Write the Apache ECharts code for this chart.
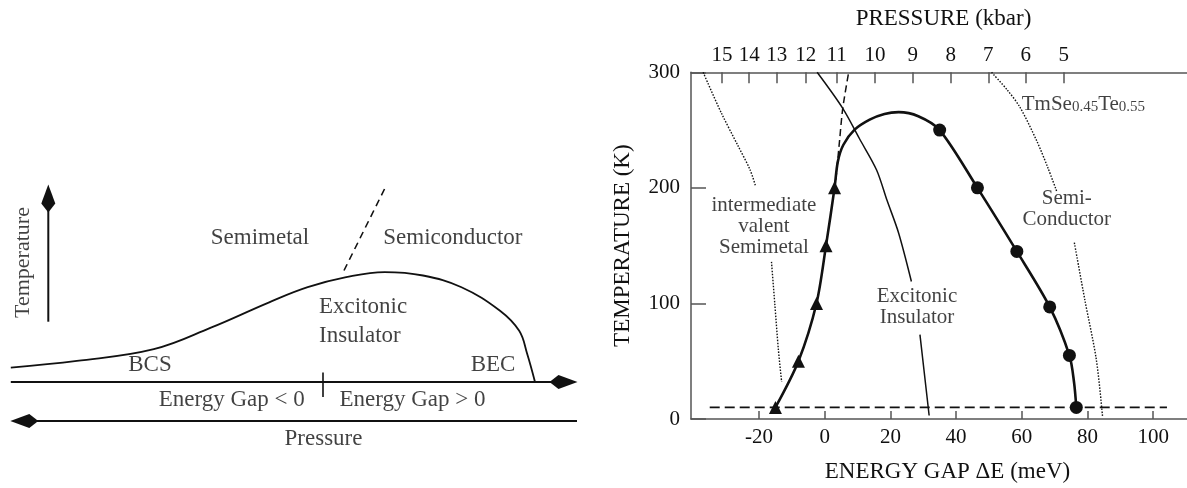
<!DOCTYPE html>
<html><head><meta charset="utf-8">
<script src="https://cdn.jsdelivr.net/npm/echarts@6/dist/echarts.min.js"></script>
<style>html,body{margin:0;padding:0;background:#fff}#c{width:1187px;height:488px}</style>
</head><body><div id="c"></div>
<script>
// ================= LEFT PANEL (schematic, arbitrary units) =================
const schemCurveX = [10.8, 76.9, 153.8, 211.5, 269.2, 307.7, 346.2, 384.6, 423, 461.5, 500, 519.2, 527, 535];
const schemCurveY = [82.4, 89.1, 100.8, 122.6, 147.7, 162.8, 172.8, 177.9, 174.5, 162.8, 139.3, 119.2, 96.7, 68];
const schemDashX = [344, 386.5];
const schemDashY = [179.5, 265];
const tempArrowX = [48.3, 48.3];
const tempArrowY = [128.3, 251.5];
const gapArrowX = [10.8, 563.5];
const gapArrowY = [68, 68];
const pressArrowX = [577, 24.3];
const pressArrowY = [29, 29];
const zeroTickX = [323, 323];
const zeroTickY = [77.4, 53];
const schemTexts = ['Semimetal', 'Semiconductor', 'BCS', 'BEC', 'Energy Gap < 0', 'Energy Gap > 0', 'Pressure'];
const schemTextX = [260, 452.9, 150, 493, 231.7, 412.5, 323.5];
const schemTextY = [212.4, 212.4, 84.7, 84.7, 50, 50, 11.4];
const schemLeftTexts = ['Excitonic', 'Insulator'];
const schemLeftTextX = [319, 319];
const schemLeftTextY = [143.4, 114.2];

// ================= RIGHT PANEL (ENERGY GAP meV vs TEMPERATURE K) =================
const energyTicks = [-20, 0, 20, 40, 60, 80, 100];
const pressureLabels = ['15', '14', '13', '12', '11', '10', '9', '8', '7', '6', '5'];
const pressureTickEnergy = [-31.3, -23.0, -14.6, -5.8, 3.65, 15.3, 26.8, 38.4, 49.8, 61.2, 72.8];

const triangleE = [-15, -8, -2.5, 0.4, 3];
const triangleT = [10, 50, 100, 150, 200];
const circleE = [35, 46.5, 58.5, 68.5, 74.5, 76.6];
const circleT = [250, 200, 145, 97, 55, 10];

const phaseE = [-15, -8, -2.5, 0.4, 3, 4.0, 5.7, 9.1, 13.7, 18.2, 22.5, 28.5, 35, 46.5, 58.5, 68.5, 74.5, 75.9, 76.6];
const phaseT = [10, 50, 100, 150, 200, 222.7, 237.3, 250.4, 259.1, 264, 265.5, 262, 250, 200, 145, 97, 55, 32, 10];

const eiLineE = [-2.3, 5.5, 10.6, 15.8, 19, 22.5, 26.4, null, 29, 31.8];
const eiLineT = [300, 268.8, 242.5, 215.5, 189, 161, 119, null, 73, 3];

const steepDashE = [3.4, 4.5, 5.5, 7.3];
const steepDashT = [207, 240, 268.8, 300];

const dotUL_E = [-37, -31.5, -26.5, -22.7, -21];
const dotUL_T = [300, 265, 237, 215.5, 201];
const dotLL_E = [-16.2, -15.2, -14.1, -13.1];
const dotLL_T = [136, 100, 60, 32];
const dotUR_E = [50.8, 55.5, 59.4, 64.5, 68, 70.7];
const dotUR_T = [300, 285, 270, 241, 217, 196.5];
const dotLR_E = [76, 79.2, 82.7, 84.6];
const dotLR_T = [152.6, 103, 51.3, 2];

const baseDashE = [-35, 104.2];
const baseDashT = [10, 10];

const regionTexts = ['intermediate\nvalent\nSemimetal', 'Excitonic\nInsulator', 'Semi-\nConductor'];
const regionTextE = [-18.5, 28.1, 73.7];
const regionTextT = [167, 97, 181.8];
const compoundE = 60, compoundT = 276;

// ================= helpers =================
const zip = (a, b) => a.map((v, i) => (v === null ? null : [v, b[i]]));
const FONT = 'Liberation Serif';
const INK = '#111';
const kite = 'path://M7,0 L14,19 L7,28 L0,19 Z';

function arrowData(xs, ys, rot) {
  return [
    { value: [xs[0], ys[0]], symbol: 'none' },
    { value: [xs[1], ys[1]], symbol: kite, symbolSize: [14, 28], symbolRotate: rot, itemStyle: { color: INK, opacity: 1 } }
  ];
}
function lineSeries(data, opts, grid) {
  return Object.assign({
    type: 'line', xAxisIndex: grid === 0 ? 0 : 1, yAxisIndex: grid === 0 ? 0 : 1,
    data: data, symbol: 'none', showSymbol: true, silent: true, z: 3,
    connectNulls: false
  }, opts);
}
function textSeries(names, xs, ys, grid, labelOpts) {
  return {
    type: 'scatter', xAxisIndex: grid === 0 ? 0 : 1, yAxisIndex: grid === 0 ? 0 : 1,
    symbolSize: 0, silent: true, z: 5,
    data: names.map((n, i) => ({ name: n, value: [xs[i], ys[i]] })),
    label: Object.assign({
      show: true, position: 'inside', formatter: p => p.name,
      fontFamily: FONT, fontSize: 23, color: INK, lineHeight: 21
    }, labelOpts)
  };
}

const chart = echarts.init(document.getElementById('c'), null, { renderer: 'canvas' });
const axisLineStyle = { color: '#555', width: 1.5 };
const option = {
  animation: false,
  backgroundColor: '#fff',
  grid: [
    { left: 0, top: 150, width: 600, height: 300 },
    { left: 691, top: 72.3, right: 0, bottom: 68.7 }
  ],
  xAxis: [
    { gridIndex: 0, type: 'value', min: 0, max: 600, show: false },
    {
      gridIndex: 1, type: 'value', position: 'bottom', min: -40.7, max: 110.3,
      axisLine: { onZero: false, lineStyle: axisLineStyle },
      axisTick: { inside: true, length: 8, customValues: energyTicks, lineStyle: axisLineStyle },
      axisLabel: { customValues: energyTicks, margin: 8, fontFamily: FONT, fontSize: 21, color: INK },
      splitLine: { show: false },
      name: 'ENERGY GAP \u0394E (meV)', nameLocation: 'middle', nameGap: 41,
      nameTextStyle: { fontFamily: FONT, fontSize: 23, color: INK, padding: [0, 0, 0, 17] }
    },
    {
      gridIndex: 1, type: 'value', position: 'top', min: -40.7, max: 110.3,
      axisLine: { onZero: false, lineStyle: axisLineStyle },
      axisTick: { inside: true, length: 11, customValues: pressureTickEnergy, lineStyle: axisLineStyle },
      axisLabel: {
        customValues: pressureTickEnergy, margin: 6, fontFamily: FONT, fontSize: 21, color: INK,
        formatter: v => {
          let best = 0;
          pressureTickEnergy.forEach((e, i) => { if (Math.abs(e - v) < Math.abs(pressureTickEnergy[best] - v)) best = i; });
          return pressureLabels[best];
        }
      },
      splitLine: { show: false },
      name: 'PRESSURE (kbar)', nameLocation: 'middle', nameGap: 42,
      nameTextStyle: { fontFamily: FONT, fontSize: 23, color: INK, padding: [0, 0, 0, 9] }
    }
  ],
  yAxis: [
    { gridIndex: 0, type: 'value', min: 0, max: 300, show: false },
    {
      gridIndex: 1, type: 'value', min: 0, max: 300, interval: 100,
      axisLine: { show: true, onZero: false, lineStyle: axisLineStyle },
      axisTick: { show: true, inside: true, length: 15, lineStyle: axisLineStyle },
      axisLabel: { margin: 11, fontFamily: FONT, fontSize: 21, color: INK },
      splitLine: { show: false },
      name: 'TEMPERATURE (K)', nameLocation: 'middle', nameGap: 57, nameRotate: 90,
      nameTextStyle: { fontFamily: FONT, fontSize: 23, color: INK }
    }
  ],
  series: [
    // ---- left schematic ----
    lineSeries(zip(schemCurveX, schemCurveY), { smooth: 0.4, lineStyle: { color: INK, width: 1.8 } }, 0),
    lineSeries(zip(schemDashX, schemDashY), { lineStyle: { color: INK, width: 1.6, type: [7, 5] } }, 0),
    lineSeries(arrowData(tempArrowX, tempArrowY, 0), { lineStyle: { color: INK, width: 2 } }, 0),
    lineSeries(arrowData(gapArrowX, gapArrowY, -90), { lineStyle: { color: INK, width: 2 } }, 0),
    lineSeries(arrowData(pressArrowX, pressArrowY, 90), { lineStyle: { color: INK, width: 2 } }, 0),
    lineSeries(zip(zeroTickX, zeroTickY), { lineStyle: { color: INK, width: 1.6 } }, 0),
    textSeries(schemTexts, schemTextX, schemTextY, 0, {}),
    textSeries(schemLeftTexts, schemLeftTextX, schemLeftTextY, 0, { position: 'right', distance: 0 }),
    textSeries(['Temperature'], [23.3], [187.5], 0, { rotate: 90, fontSize: 22 }),
    // ---- right plot ----
    lineSeries(zip(phaseE, phaseT), { smooth: 0.3, lineStyle: { color: INK, width: 2.6 } }, 1),
    lineSeries(zip(eiLineE, eiLineT), { smooth: 0.3, lineStyle: { color: INK, width: 1.5 } }, 1),
    lineSeries(zip(steepDashE, steepDashT), { smooth: 0.3, lineStyle: { color: INK, width: 1.5, type: [7, 4] } }, 1),
    lineSeries(zip(dotUL_E, dotUL_T), { smooth: 0.3, lineStyle: { color: INK, width: 1.4, type: [1.5, 1.5] } }, 1),
    lineSeries(zip(dotLL_E, dotLL_T), { smooth: 0.3, lineStyle: { color: INK, width: 1.4, type: [1.5, 1.5] } }, 1),
    lineSeries(zip(dotUR_E, dotUR_T), { smooth: 0.3, lineStyle: { color: INK, width: 1.4, type: [1.5, 1.5] } }, 1),
    lineSeries(zip(dotLR_E, dotLR_T), { smooth: 0.3, lineStyle: { color: INK, width: 1.4, type: [1.5, 1.5] } }, 1),
    lineSeries(zip(baseDashE, baseDashT), { lineStyle: { color: INK, width: 1.8, type: [10, 5] } }, 1),
    {
      type: 'scatter', xAxisIndex: 1, yAxisIndex: 1, symbol: 'triangle', symbolSize: 13, z: 6, silent: true,
      itemStyle: { color: INK, opacity: 1 }, data: zip(triangleE, triangleT)
    },
    {
      type: 'scatter', xAxisIndex: 1, yAxisIndex: 1, symbol: 'circle', symbolSize: 13, z: 6, silent: true,
      itemStyle: { color: INK, opacity: 1 }, data: zip(circleE, circleT)
    },
    textSeries(regionTexts, regionTextE, regionTextT, 1, { fontSize: 21, lineHeight: 21 }),
    {
      type: 'scatter', xAxisIndex: 1, yAxisIndex: 1, symbolSize: 0, silent: true, z: 5,
      data: [{ name: 'TmSe', value: [compoundE, compoundT] }],
      label: {
        show: true, position: 'right', distance: 0,
        formatter: '{m|TmSe}{s|0.45}{m|Te}{s|0.55}',
        rich: {
          m: { fontFamily: FONT, fontSize: 21, color: INK, lineHeight: 30, verticalAlign: 'bottom' },
          s: { fontFamily: FONT, fontSize: 15, color: INK, lineHeight: 8, verticalAlign: 'bottom' }
        }
      }
    }
  ]
};
chart.setOption(option);
</script></body></html>
